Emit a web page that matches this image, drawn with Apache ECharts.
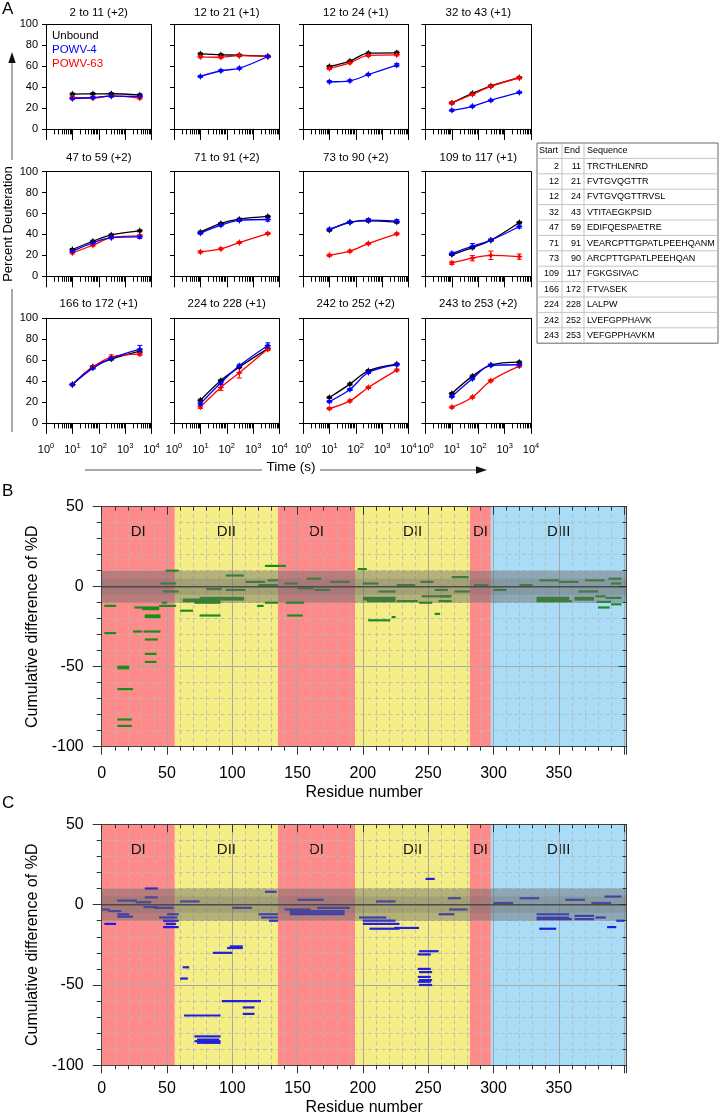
<!DOCTYPE html>
<html><head><meta charset="utf-8">
<script src="https://cdn.jsdelivr.net/npm/echarts@6/dist/echarts.min.js"></script>
<style>html,body{margin:0;padding:0;background:#fff}#c{width:720px;height:1117px}</style>
</head><body><div id="c"></div>
<script>
// ---------------- DATA ----------------
const times = [10, 60, 300, 3600];
const peptideTitles = ['2 to 11 (+2)','12 to 21 (+1)','12 to 24 (+1)','32 to 43 (+1)','47 to 59 (+2)','71 to 91 (+2)','73 to 90 (+2)','109 to 117 (+1)','166 to 172 (+1)','224 to 228 (+1)','242 to 252 (+2)','243 to 253 (+2)'];
const unbound = [
 [33.3,33.5,33.6,32.5],[71.7,70.8,70.5,69.5],[59.7,64.8,72.4,72.7],[24.8,34,41,49],
 [25.6,33.5,39.6,43.5],[42.2,50.5,54.6,57.2],[44.1,51.8,53,51.8],[20.8,27.5,34.5,51.4],
 [36.7,53.7,61,68.7],[21.7,40.6,53.4,71],[24.3,37.1,49.8,56.2],[28.1,44.7,55.3,58.1]
];
const powv4 = [
 [28.9,30,31.4,31],[50.2,55.6,58,69.2],[45.1,46,52,61],[17.8,21.6,27.3,34.9],
 [24,32,37,37.7],[41.2,48.9,53.4,54.3],[45,51.4,53.7,52.7],[21.7,28.8,34.5,47.6],
 [36.7,52.4,61.7,70.6],[18.2,38.3,54.6,74],[20.4,31.9,48.2,55.6],[25.2,42.2,55,55.6]
];
const powv63 = [
 [30,29.5,31.5,29.5],[68.9,68.5,70,69],[57.8,63.2,70.2,70.8],[24.8,33,40.6,48.9],
 [22.4,29.7,37,38.7],[23.3,26.2,32.3,40.9],[20.1,24,31.3,40.6],[12.8,17.3,20.1,18.8],
 [36.4,53.4,63,65.8],[15.3,33.9,47.9,70.6],[13.7,21,33.9,50.5],[15,24.6,40.3,54.3]
];
const errUnbound = [
 [1,1,1,1],[1,1,1,1],[1,1,1,1.5],[1,1,1,1],[1,1,1,1],[1,1,1,1],
 [1,1,1,1],[1,1,1,1],[1,1,1,1.5],[1,1,1,1.5],[1,1,1,1],[1,1,1,1]
];
const errPowv4 = [
 [1,1,1,1],[1,1,1,1],[1,1,1,1.5],[1,1,1,1],[1,1,1,1.5],[1,1,1,1.5],
 [1,1,1.5,1.5],[1.5,2.5,1,1.5],[1,1,1,3.5],[1.5,1.5,1.5,2.5],[1,1,1,1],[1,1,1,1]
];
const errPowv63 = [
 [1,1,1,1],[1,1,1,1],[1,1,1,1],[1,1,1,1],[1,1,1,1],[1,1,1,1],
 [1,1,1,1],[1.5,2.5,4,2.5],[1,1,2,1.5],[1.5,3,5,1.5],[1,1,1,1],[1,1,1,1]
];
const tableStart = [2,12,12,32,47,71,73,109,166,224,242,243];
const tableEnd = [11,21,24,43,59,91,90,117,172,228,252,253];
const tableSeq = ['TRCTHLENRD','FVTGVQGTTR','FVTGVQGTTRVSL','VTITAEGKPSID','EDIFQESPAETRE','VEARCPTTGPATLPEEHQANM','ARCPTTGPATLPEEHQAN','FGKGSIVAC','FTVASEK','LALPW','LVEFGPPHAVK','VEFGPPHAVKM'];

const domains = [[0,56,'DI'],[56,135,'DII'],[135,194,'DI'],[194,282,'DII'],[282,298,'DI'],[298,402,'DIII']];
const bands = [10, 5];
// [start residue, end residue, cumulative difference %D]
const diffPowv4 = [
 [2,11,-12],[2,11,-29],[12,21,-50],[12,21,-51],[12,24,-64],[12,23,-83],[12,23,-87],
 [25,44,-13],[31,44,-14],[33,45,-18],[33,45,-19],[24,31,-28],[32,45,-28],[33,43,-33],[33,42,-42],[33,42,-47],
 [44,57,-12],[46,50,-10],[49,59,10],[45,57,2],[47,59,-3],
 [60,70,-15],[75,91,-18],[62,91,-8],[62,91,-9],[71,91,-10],[73,90,-9],[75,92,-7],[91,109,-7],[91,109,-8],
 [95,109,7],[119,124,-12],[125,135,-10],[125,141,13],[80,92,-1.5],[95,110,-2],[110,125,3],[120,135,1],[127,135,4],
 [141,155,-10],[142,154,-18],[157,168,5],[140,150,2],[150,162,-1],[163,175,-2],[175,190,3],
 [196,203,11],[200,225,-7],[200,225,-8],[203,225,-9],[204,221,-21],[222,225,-19],[226,242,-9],[200,212,2],[212,225,-3],[226,240,1],
 [245,268,-6],[243,253,-10],[255,259,-17],[258,268,-9],[268,281,6],[259,267,-6],[244,254,3],[255,265,-2],[270,282,-3],
 [285,296,1],[300,310,-2],[320,330,1],
 [333,358,-7],[333,358,-8],[333,360,-9],[362,377,-7],[362,377,-8],[378,386,-6],[379,390,-9.5],[380,389,-13],[388,398,5],[390,398,-11],[386,398,-7],
 [335,350,4],[350,365,3],[370,385,4],[365,380,-3],[390,398,2]
];
const diffPowv63 = [
 [2,11,-12],[12,21,-6],[12,24,-7.5],[32,43,-1.5],[33,43,10],[5,15,-4],[12,27,2.5],[26,38,1.5],[33,43,4.5],[0,6,-3],[40,55,-2],
 [47,59,-14],[47,59,-10],[49,57,-12],[44,58,-8],[50,59,-6],
 [62,67,-39],[60,66,-46],[63,91,-69],[71,91,-82],[73,90,-84],[71,91,-85],[73,91,-86],
 [92,122,-60],[85,100,-30],[96,108,-27],[98,108,-26],[108,117,-64],[108,117,-68],
 [125,134,8],[120,135,-6],[122,135,-8],[128,135,-10],[60,75,2],[100,115,-2],
 [144,186,-4],[144,186,-5],[144,186,-6],[140,160,-3],[165,190,-2],[150,170,3],
 [197,218,-8],[200,225,-10],[200,228,-12],[224,243,-14.5],[205,228,-15],[210,225,2],
 [248,255,16],[243,258,-29],[242,252,-31],[242,252,-40],[243,253,-42],[242,252,-45],[243,253,-47],[242,252,-48],[243,253,-50],
 [258,270,-6],[266,280,-3],[265,275,4],
 [333,358,-6],[333,358,-8],[333,360,-9],[362,377,-7],[362,377,-9],[378,386,-8],[335,348,-15],[387,394,-14],[394,400,-10],
 [300,315,1],[320,335,4],[355,370,3],[375,390,1],[385,398,5]
];

// ---------------- LAYOUT / STYLE ----------------
const FONT = 'Arial, "Liberation Sans", Helvetica, sans-serif';
const grids = [], xAxes = [], yAxes = [], series = [], graphics = [];
const colLeft = [46, 174, 303, 425.5], rowTop = [24.3, 171.7, 318.3], titleY = [13, 157.5, 303.5];
const GW = 105.5, GH = 104.6;
const minorLog = [];
for (let n = 0; n < 4; n++) for (let k = 2; k <= 9; k++) minorLog.push(n + Math.log10(k));
const starSym = 'path://M0,-4L1.3,-1.3L4,0L1.3,1.3L0,4L-1.3,1.3L-4,0L-1.3,-1.3Z';

function errBar(color) {
  return function (params, api) {
    const x = api.value(0);
    const a = api.coord([x, api.value(1)]), b = api.coord([x, api.value(2)]);
    const w = 2.5;
    return {type: 'group', children: [
      {type: 'line', shape: {x1: a[0], y1: a[1], x2: b[0], y2: b[1]}, style: {stroke: color, lineWidth: 1}},
      {type: 'line', shape: {x1: a[0] - w, y1: a[1], x2: a[0] + w, y2: a[1]}, style: {stroke: color, lineWidth: 1}},
      {type: 'line', shape: {x1: b[0] - w, y1: b[1], x2: b[0] + w, y2: b[1]}, style: {stroke: color, lineWidth: 1}}
    ]};
  };
}

const groups = [
  {vals: unbound, errs: errUnbound, color: '#000000'},
  {vals: powv63, errs: errPowv63, color: '#ff0000'},
  {vals: powv4, errs: errPowv4, color: '#0000ff'}
];

for (let i = 0; i < 12; i++) {
  const r = Math.floor(i / 4), c = i % 4;
  grids.push({left: colLeft[c], top: rowTop[r], width: GW, height: GH});
  const xi = xAxes.length, yi = yAxes.length;
  xAxes.push({gridIndex: i, type: 'log', logBase: 10, min: 1, max: 10000, position: 'bottom',
    axisLine: {show: true, onZero: false, lineStyle: {color: '#000', width: 1}},
    axisTick: {show: true, length: 11, lineStyle: {color: '#000', width: 1}},
    minorTick: {show: false}, splitLine: {show: false},
    axisLabel: {show: r === 2, margin: 19, color: '#000',
      formatter: v => '{b|10}{s|' + Math.round(Math.log10(v)) + '}',
      rich: {b: {fontSize: 11, fontFamily: FONT, color: '#000', lineHeight: 17},
             s: {fontSize: 7.5, fontFamily: FONT, color: '#000', verticalAlign: 'top'}}}});
  xAxes.push({gridIndex: i, type: 'value', min: 0, max: 4, position: 'bottom',
    axisLine: {show: false, onZero: false},
    axisTick: {show: true, length: 5.5, customValues: minorLog, lineStyle: {color: '#000', width: 1}},
    axisLabel: {show: false}, splitLine: {show: false}});
  xAxes.push({gridIndex: i, type: 'value', min: 0, max: 4, position: 'top',
    axisLine: {show: true, onZero: false, lineStyle: {color: '#000', width: 1}},
    axisTick: {show: false}, axisLabel: {show: false}, splitLine: {show: false}});
  yAxes.push({gridIndex: i, type: 'value', min: 0, max: 100, interval: 20, position: 'left',
    axisLine: {show: true, onZero: false, lineStyle: {color: '#000', width: 1}},
    axisTick: {show: true, length: 4, lineStyle: {color: '#000'}},
    axisLabel: {show: c === 0, margin: 8, fontSize: 11, fontFamily: FONT, color: '#000'},
    splitLine: {show: false}});
  yAxes.push({gridIndex: i, type: 'value', min: 0, max: 100, interval: 20, position: 'right',
    axisLine: {show: true, onZero: false, lineStyle: {color: '#000', width: 1}},
    axisTick: {show: false}, axisLabel: {show: false}, splitLine: {show: false}});
  groups.forEach(g => {
    series.push({type: 'custom', xAxisIndex: xi, yAxisIndex: yi, z: 2, silent: true,
      data: times.map((t, k) => [t, g.vals[i][k] - g.errs[i][k], g.vals[i][k] + g.errs[i][k]]),
      encode: {x: 0, y: [1, 2]}, renderItem: errBar(g.color)});
    series.push({type: 'line', xAxisIndex: xi, yAxisIndex: yi, z: 3, silent: true,
      data: times.map((t, k) => [t, g.vals[i][k]]), smooth: 0.35,
      symbol: starSym, symbolSize: 7, showSymbol: true,
      itemStyle: {color: g.color}, lineStyle: {color: g.color, width: 1.3}});
  });
  graphics.push({type: 'text', x: colLeft[c] + GW / 2, y: titleY[r],
    style: {text: peptideTitles[i], font: '11.5px ' + FONT, fill: '#000', align: 'center', verticalAlign: 'middle'}});
}

// ---- Panels B and C ----
const domainColors = {DI: '#ff8a8a', DII: '#f5ee86', DIII: '#a9dcf6'};
function addPanel(top, height, diffs, segColor, labelMargin, nameGap) {
  const g = grids.length;
  grids.push({left: 101.7, top: top, width: 525, height: height});
  const xa = xAxes.length, ya = yAxes.length;
  const xc = {gridIndex: g, type: 'value', min: 0, max: 402, interval: 50, minorTick: {splitNumber: 5}};
  const yc = {gridIndex: g, type: 'value', min: -100, max: 50, interval: 50, minorTick: {splitNumber: 5}};
  const split = {show: true, lineStyle: {color: '#a8a8a8', width: 1}};
  const minorSplit = {show: true, lineStyle: {color: 'rgba(185,185,185,0.85)', width: 1, type: [4, 3]}};
  const frame = {show: true, onZero: false, lineStyle: {color: '#444', width: 1}};
  xAxes.push(Object.assign({}, xc, {position: 'bottom', z: 2, axisLine: {show: false, onZero: false}, axisTick: {show: false},
    axisLabel: {show: false}, splitLine: split, minorSplitLine: minorSplit}));
  xAxes.push(Object.assign({}, xc, {position: 'bottom', z: 6, axisLine: frame,
    axisTick: {show: true, length: 8, lineStyle: {color: '#333'}},
    minorTick: {show: true, splitNumber: 5, length: 4, lineStyle: {color: '#333'}},
    axisLabel: {show: true, fontSize: 16, fontFamily: FONT, color: '#000', margin: labelMargin, formatter: v => v >= 400 ? '' : String(v)},
    splitLine: {show: false}, name: 'Residue number', nameLocation: 'middle', nameGap: nameGap,
    nameTextStyle: {fontSize: 16, fontFamily: FONT, color: '#000'}}));
  xAxes.push(Object.assign({}, xc, {position: 'top', z: 6, axisLine: frame,
    axisTick: {show: true, inside: true, length: 8, lineStyle: {color: '#333'}},
    minorTick: {show: true, splitNumber: 5, length: 4, lineStyle: {color: '#333'}},
    axisLabel: {show: false}, splitLine: {show: false}}));
  yAxes.push(Object.assign({}, yc, {position: 'left', z: 2, axisLine: {show: false, onZero: false}, axisTick: {show: false},
    axisLabel: {show: false}, splitLine: split, minorSplitLine: minorSplit}));
  yAxes.push(Object.assign({}, yc, {position: 'left', z: 6, axisLine: frame,
    axisTick: {show: true, length: 9, lineStyle: {color: '#333'}},
    minorTick: {show: true, splitNumber: 5, length: 5, lineStyle: {color: '#333'}},
    axisLabel: {show: true, fontSize: 16, fontFamily: FONT, color: '#000', margin: 18},
    splitLine: {show: false}, name: 'Cumulative difference of %D', nameLocation: 'middle', nameGap: 58,
    nameTextStyle: {fontSize: 16, fontFamily: FONT, color: '#000'}}));
  yAxes.push(Object.assign({}, yc, {position: 'right', z: 6, axisLine: frame,
    axisTick: {show: true, inside: true, length: 8, lineStyle: {color: '#333'}},
    minorTick: {show: true, splitNumber: 5, length: 4, lineStyle: {color: '#333'}},
    axisLabel: {show: false}, splitLine: {show: false}}));
  // domain backgrounds
  series.push({type: 'custom', xAxisIndex: xa, yAxisIndex: ya, z: 1, silent: true,
    data: domains.map(d => [d[0], d[1]]), encode: {x: [0, 1]},
    renderItem: (params, api) => {
      const d = domains[params.dataIndex];
      const cs = params.coordSys;
      const a = api.coord([d[0], 0]), b = api.coord([d[1], 0]);
      const lab = api.coord([(d[0] + d[1]) / 2, 34]);
      return {type: 'group', children: [
        {type: 'rect', shape: {x: a[0], y: cs.y, width: b[0] - a[0], height: cs.height}, style: {fill: domainColors[d[2]]}},
        {type: 'text', x: lab[0], y: lab[1], style: {text: d[2], font: '15px ' + FONT, fill: '#111', align: 'center', verticalAlign: 'middle'}}
      ]};
    }});
  // peptide segments
  series.push({type: 'custom', xAxisIndex: xa, yAxisIndex: ya, z: 3, silent: true,
    data: diffs, encode: {x: [0, 1], y: 2},
    renderItem: (params, api) => {
      const a = api.coord([api.value(0), api.value(2)]), b = api.coord([api.value(1), api.value(2)]);
      return {type: 'line', shape: {x1: a[0], y1: a[1], x2: b[0], y2: b[1]}, style: {stroke: segColor, lineWidth: 2.2}};
    }});
  // significance bands
  series.push({type: 'custom', xAxisIndex: xa, yAxisIndex: ya, z: 4, silent: true,
    data: bands.map(b => [0, b]), encode: {y: 1},
    renderItem: (params, api) => {
      const cs = params.coordSys, b = api.value(1);
      const t = api.coord([0, b])[1], bt = api.coord([0, -b])[1];
      return {type: 'rect', shape: {x: cs.x, y: t, width: cs.width, height: bt - t},
        style: {fill: params.dataIndex === 0 ? 'rgba(105,105,105,0.45)' : 'rgba(105,105,105,0.22)'}};
    }});
  // zero line
  series.push({type: 'custom', xAxisIndex: xa, yAxisIndex: ya, z: 5, silent: true,
    data: [[0, 0]], encode: {y: 1},
    renderItem: (params, api) => {
      const cs = params.coordSys, y = api.coord([0, api.value(1)])[1];
      return {type: 'line', shape: {x1: cs.x, y1: y, x2: cs.x + cs.width, y2: y}, style: {stroke: '#4a4a4a', lineWidth: 1.5}};
    }});
}
addPanel(506.7, 240, diffPowv4, '#1c8c1c', 19, 38);
addPanel(824.3, 241, diffPowv63, '#1f1fdc', 15, 34);

// ---- decorations ----
const T = (x, y, text, size, extra) => graphics.push(Object.assign({type: 'text', x: x, y: y,
  style: Object.assign({text: text, font: size + 'px ' + FONT, fill: '#000', align: 'left', verticalAlign: 'middle'}, extra || {})}));
T(2, 9.5, 'A', 17);
T(2, 491, 'B', 17);
T(2, 803, 'C', 17);
T(52, 35.7, 'Unbound', 11.5, {fill: '#000'});
T(52, 50.3, 'POWV-4', 11.5, {fill: '#0000ff'});
T(52, 64.3, 'POWV-63', 11.5, {fill: '#ff0000'});
// Time axis arrow
T(291, 467, 'Time (s)', 13.5, {align: 'center'});
graphics.push({type: 'line', shape: {x1: 85, y1: 470, x2: 262, y2: 470}, style: {stroke: '#555', lineWidth: 1}});
graphics.push({type: 'line', shape: {x1: 320, y1: 470, x2: 478, y2: 470}, style: {stroke: '#555', lineWidth: 1}});
graphics.push({type: 'polygon', shape: {points: [[487, 470], [476, 466.3], [476, 473.7]]}, style: {fill: '#111'}});
// Percent deuteration arrow
graphics.push({type: 'text', x: 8.5, y: 224, rotation: Math.PI / 2,
  style: {text: 'Percent Deuteration', font: '13px ' + FONT, fill: '#000', align: 'center', verticalAlign: 'middle'}});
graphics.push({type: 'line', shape: {x1: 12, y1: 60, x2: 12, y2: 160}, style: {stroke: '#555', lineWidth: 1}});
graphics.push({type: 'line', shape: {x1: 12, y1: 289, x2: 12, y2: 432}, style: {stroke: '#555', lineWidth: 1}});
graphics.push({type: 'polygon', shape: {points: [[12, 52], [8.3, 63], [15.7, 63]]}, style: {fill: '#111'}});
// Peptide table
const tb = {x0: 537, x1: 718, y0: 143, rh: 15.4, c1: 562, c2: 584};
const nRows = tableStart.length + 1;
graphics.push({type: 'rect', shape: {x: tb.x0, y: tb.y0, width: tb.x1 - tb.x0, height: nRows * tb.rh}, style: {fill: '#fff', stroke: '#666', lineWidth: 1}});
for (let r = 1; r < nRows; r++) graphics.push({type: 'line', shape: {x1: tb.x0, y1: tb.y0 + r * tb.rh, x2: tb.x1, y2: tb.y0 + r * tb.rh}, style: {stroke: '#c4c4c4', lineWidth: 1}});
[tb.c1, tb.c2].forEach(x => graphics.push({type: 'line', shape: {x1: x, y1: tb.y0, x2: x, y2: tb.y0 + nRows * tb.rh}, style: {stroke: '#c4c4c4', lineWidth: 1}}));
T(tb.x0 + 2, tb.y0 + tb.rh / 2, 'Start', 9);
T(tb.c1 + 2, tb.y0 + tb.rh / 2, 'End', 9);
T(tb.c2 + 3, tb.y0 + tb.rh / 2, 'Sequence', 9);
tableStart.forEach((s, k) => {
  const y = tb.y0 + (k + 1.5) * tb.rh;
  T(tb.c1 - 3, y, String(s), 9, {align: 'right'});
  T(tb.c2 - 3, y, String(tableEnd[k]), 9, {align: 'right'});
  T(tb.c2 + 3, y, tableSeq[k], 9);
});

const chart = echarts.init(document.getElementById('c'), null, {renderer: 'canvas', width: 720, height: 1117});
chart.setOption({
  animation: false,
  backgroundColor: '#ffffff',
  textStyle: {fontFamily: FONT},
  grid: grids, xAxis: xAxes, yAxis: yAxes, series: series, graphic: graphics
});
</script>
</body></html>
